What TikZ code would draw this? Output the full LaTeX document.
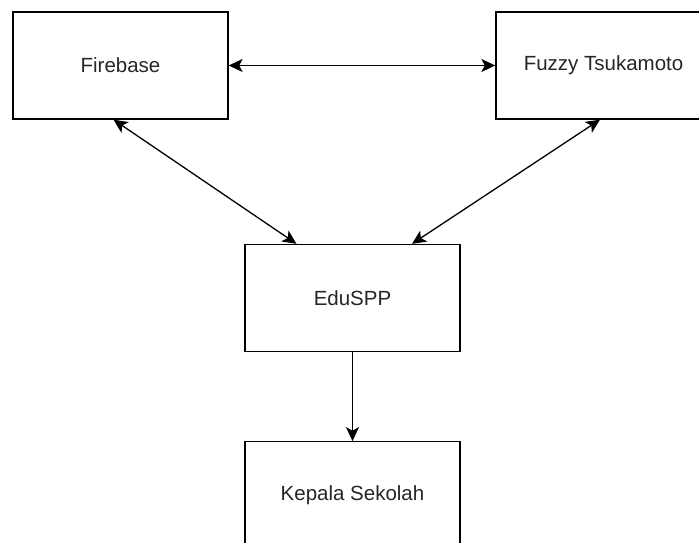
\documentclass[tikz,border=0pt]{standalone}
\usepackage{fontspec}
\setmainfont{Liberation Sans}
\usepackage{tikz}
\usetikzlibrary{
	arrows.meta,
	positioning
}
\usepackage{xcolor}

\begin{document}
\begin{tikzpicture}[
		x=1pt,y=1pt,
		>={Stealth[length=14pt,width=13pt,inset=3.5pt]},
		block/.style={
			draw,
			line width=1.3pt,
			minimum width=215pt,
			minimum height=107pt,
			inner sep=0pt,
			text=black!85,
			font=\fontsize{20.5}{24}\selectfont
		},
		link/.style={
			<->,
			line width=1.3pt
		}
		]
		
		% Canvas
		\useasboundingbox (0,0) rectangle (699,-543);
		
		% Top row
		\node[block] (firebase) at (120.5,-65.5) {Firebase};
		\node[block] (fuzzy) at (603.5,-65.5) {Fuzzy Tsukamoto};
		
		% Application
		\node[block] (eduspp) at (352.5,-298) {EduSPP};
		
		% User
		\node[block, below=89pt of eduspp] (kepala) {Kepala Sekolah};
		
		% Connections
		\draw[link] (firebase.east) -- (fuzzy.west);
		\draw[link] ([xshift=-7pt]firebase.south) -- ([xshift=-56pt]eduspp.north);
		\draw[link] ([xshift=-3.5pt]fuzzy.south) -- ([xshift=59.5pt]eduspp.north);
		\draw[->,line width=1.3pt] (eduspp.south) -- (kepala.north);
		
	\end{tikzpicture}
\end{document}
